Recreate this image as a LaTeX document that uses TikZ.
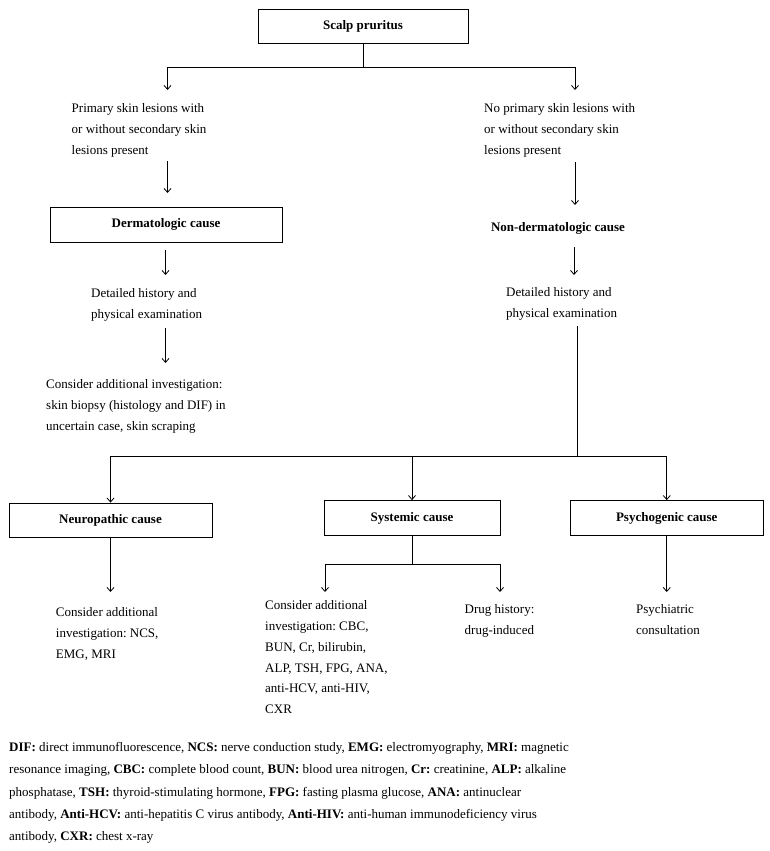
\documentclass[tikz,border=0pt]{standalone}
\usepackage{fontspec}
\setmainfont{Liberation Serif}
\usetikzlibrary{arrows.meta}
\newcommand\mytext{\frenchspacing\fontsize{13}{21}\selectfont}
\newcommand\mysys{\frenchspacing\fontsize{13}{20.8}\selectfont}
\newcommand\myfoot{\frenchspacing\fontsize{13}{22.25}\selectfont}
\begin{document}
\begin{tikzpicture}[x=1pt,y=-1pt,
  box/.style={draw, line width=0.8pt, font=\mytext\bfseries, inner sep=0pt},
  txt/.style={anchor=north west, inner sep=0pt, align=left, font=\mytext},
  arr/.style={line width=0.8pt, -{Straight Barb[length=4pt,width=7pt]}},
  ln/.style={line width=0.8pt}]
\fill[white] (0,0) rectangle (770,851);
\useasboundingbox (0,0) rectangle (770,851);

% boxes
\node[box, minimum width=210pt, minimum height=34pt] (scalp) at (363,26) {Scalp pruritus};
\node[box, minimum width=232pt, minimum height=35pt] (derm) at (166,224.5) {Dermatologic cause};
\node[font=\mytext\bfseries, inner sep=0pt] (nonderm) at (558,228) {Non-dermatologic cause};
\node[box, minimum width=203pt, minimum height=34pt] (neuro) at (110.5,520) {Neuropathic cause};
\node[box, minimum width=176pt, minimum height=35pt] (sys) at (412,518) {Systemic cause};
\node[box, minimum width=193.5pt, minimum height=35pt] (psych) at (666.75,518) {Psychogenic cause};

% texts
\node[txt] (prim) at (71.5,103.5) {Primary skin lesions with\\or without secondary skin\\lesions present};
\node[txt] (noprim) at (484,103.5) {No primary skin lesions with\\or without secondary skin\\lesions present};
\node[txt] (detL) at (91,288.5) {Detailed history and\\physical examination};
\node[txt] (detR) at (506,287.5) {Detailed history and\\physical examination};
\node[txt] (consL) at (46,379.5) {Consider additional investigation:\\skin biopsy (histology and DIF) in\\uncertain case, skin scraping};
\node[txt] (neuT) at (55.7,607.2) {Consider additional\\investigation: NCS,\\EMG, MRI};
\node[txt, font=\mysys] (sysT) at (265,600.5) {Consider additional\\investigation: CBC,\\BUN, Cr, bilirubin,\\ALP, TSH, FPG, ANA,\\anti-HCV, anti-HIV,\\CXR};
\node[txt] (drug) at (464.5,604.5) {Drug history:\\drug-induced};
\node[txt] (psyT) at (636,604.5) {Psychiatric\\consultation};
\node[txt, font=\myfoot] (foot) at (9,742.2) {\textbf{DIF:} direct immunofluorescence, \textbf{NCS:} nerve conduction study, \textbf{EMG:} electromyography, \textbf{MRI:} magnetic\\
resonance imaging, \textbf{CBC:} complete blood count, \textbf{BUN:} blood urea nitrogen, \textbf{Cr:} creatinine, \textbf{ALP:} alkaline\\
phosphatase, \textbf{TSH:} thyroid-stimulating hormone, \textbf{FPG:} fasting plasma glucose, \textbf{ANA:} antinuclear\\
antibody, \textbf{Anti-HCV:} anti-hepatitis C virus antibody, \textbf{Anti-HIV:} anti-human immunodeficiency virus\\
antibody, \textbf{CXR:} chest x-ray};

% connector coordinates
\coordinate (jt) at (363,67.5);
\coordinate (aL) at (167.5,90);
\coordinate (aR) at (575,90);
\coordinate (b1) at (167.5,161);
\coordinate (b2) at (167.5,193);
\coordinate (c1) at (575,162);
\coordinate (c2) at (575,205);
\coordinate (d1) at (165.5,250);
\coordinate (d2) at (165.5,275);
\coordinate (e1) at (574,247);
\coordinate (e2) at (574,275);
\coordinate (f1) at (165.5,328);
\coordinate (f2) at (165.5,363);
\coordinate (g1) at (577,326);
\coordinate (jb) at (577,456);
\coordinate (js) at (412,564);
\coordinate (tipy) at (0,592);
\coordinate (sL) at (325,592);
\coordinate (sR) at (500,592);

% connectors
\draw[ln] (scalp.south) -- (jt);
\draw[arr] (jt) -| (aL);
\draw[arr] (jt) -| (aR);
\draw[arr] (b1) -- (b2);
\draw[arr] (c1) -- (c2);
\draw[arr] (d1) -- (d2);
\draw[arr] (e1) -- (e2);
\draw[arr] (f1) -- (f2);
\draw[ln] (g1) -- (jb);
\draw[arr] (jb) -| (neuro.north);
\draw[arr] (jb -| sys.north) -- (sys.north);
\draw[arr] (jb) -| (psych.north);
\draw[ln] (sys.south) -- (js);
\draw[arr] (js) -| (sL);
\draw[arr] (js) -| (sR);
\draw[arr] (neuro.south) -- (neuro.south |- tipy);
\draw[arr] (psych.south) -- (psych.south |- tipy);
\end{tikzpicture}
\end{document}
